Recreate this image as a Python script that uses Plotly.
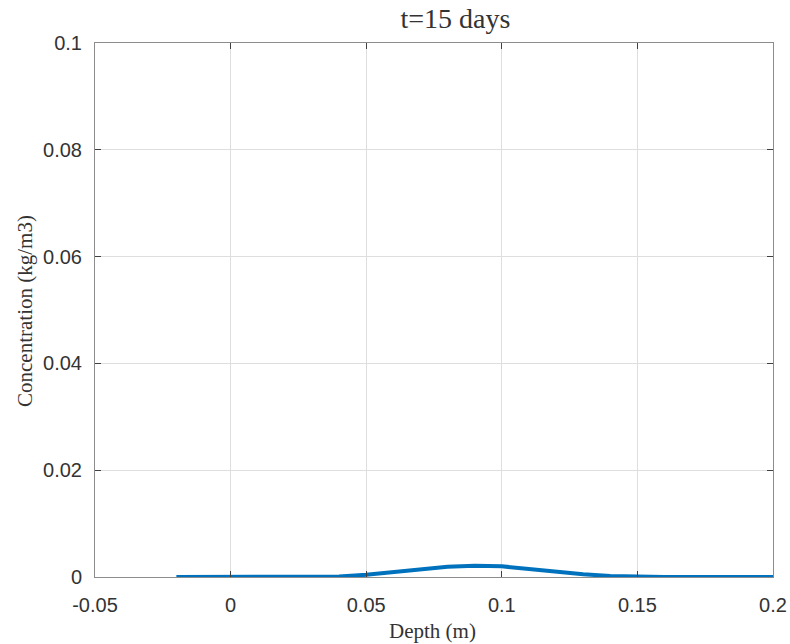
import plotly.graph_objects as go

depth = [-0.02, -0.01, 0.0, 0.01, 0.02, 0.03, 0.035, 0.04, 0.05, 0.06, 0.07, 0.08, 0.09,
         0.1, 0.11, 0.12, 0.13, 0.14, 0.15, 0.16, 0.17, 0.18, 0.19, 0.2]
conc = [0, 0, 0, 0, 0, 0, 0, 0.0001, 0.0004, 0.0009, 0.0014, 0.0019, 0.0021,
        0.0020, 0.0015, 0.0010, 0.0005, 0.0002, 0.00004, 0, 0, 0, 0, 0]

x_ticks = [-0.05, 0, 0.05, 0.1, 0.15, 0.2]
x_labels = ["-0.05", "0", "0.05", "0.1", "0.15", "0.2"]
y_ticks = [0, 0.02, 0.04, 0.06, 0.08, 0.1]
y_labels = ["0", "0.02", "0.04", "0.06", "0.08", "0.1"]

serif = "Liberation Serif, Times New Roman, serif"
sans = "Liberation Sans, Arial, Helvetica, sans-serif"

fig = go.Figure()
fig.add_trace(go.Scatter(x=depth, y=conc, mode="lines",
                         line=dict(color="#0072BD", width=4), showlegend=False))

axis_common = dict(showgrid=True, gridcolor="#dedede", gridwidth=1,
                   showline=True, linecolor="#8c8c8c", linewidth=1, mirror="ticks",
                   ticks="inside", ticklen=6, tickcolor="#404040", zeroline=False,
                   automargin=False,
                   tickfont=dict(family=sans, size=20, color="#333333"))

fig.update_layout(
    width=790, height=644,
    margin=dict(l=95, r=17, t=43, b=67),
    paper_bgcolor="white", plot_bgcolor="white",
    title=dict(text="t=15 days", x=(420 / 790), xanchor="center", xref="paper",
               y=1 - 18 / 644, yanchor="middle",
               font=dict(family=serif, size=28, color="#333333")),
    xaxis=dict(range=[-0.05, 0.2], tickvals=x_ticks, ticktext=x_labels,
               ticklabelstandoff=10, **axis_common),
    yaxis=dict(range=[0, 0.1], tickvals=y_ticks, ticktext=y_labels,
               ticklabelstandoff=8, **axis_common),
    annotations=[
        dict(text="Depth (m)", xref="paper", yref="paper", x=(432 - 95) / 678,
             y=(577 - 631) / 534, xanchor="center", yanchor="middle", showarrow=False,
             font=dict(family=serif, size=21, color="#333333")),
        dict(text="Concentration (kg/m3)", xref="paper", yref="paper",
             x=(25 - 95) / 678, y=(577 - 311) / 534, xanchor="center", yanchor="middle",
             textangle=-90, showarrow=False,
             font=dict(family=serif, size=21, color="#333333")),
    ],
)

fig.write_html("out.html")
